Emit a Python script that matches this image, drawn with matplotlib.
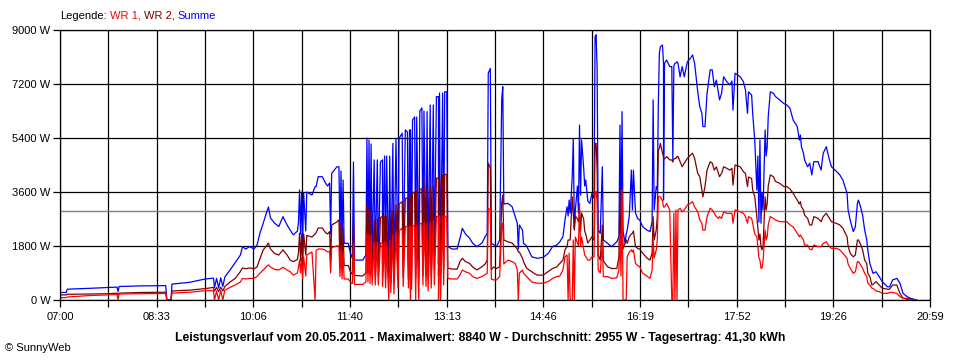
import numpy as np
import matplotlib
matplotlib.use("Agg")
import matplotlib.pyplot as plt

# Zeit in Minuten seit 07:00, Leistung in W
minuten = [
    0, 6, 7, 29, 48, 55, 56, 57, 77, 102,
    103, 107, 108, 125, 140, 148, 149, 151, 153, 155,
    157, 159, 164, 169, 174, 176, 179, 183, 187, 190,
    193, 196, 199, 201, 203, 207, 211, 215, 219, 222,
    225, 229, 230, 231, 232, 233, 234, 235, 237, 238,
    243, 246, 247, 249, 253, 256, 258, 260, 261, 262,
    267, 269, 270, 271, 272, 273, 274, 278, 280, 282,
    283, 284, 292, 295, 296, 297, 298, 299, 300, 301,
    303, 304, 306, 307, 309, 311, 311, 313, 314, 315,
    317, 318, 319, 321, 322, 324, 326, 327, 330, 331,
    333, 335, 336, 337, 338, 338, 339, 340, 342, 343,
    344, 346, 347, 349, 350, 351, 353, 354, 355, 357,
    358, 360, 361, 363, 365, 365, 366, 367, 369, 370,
    371, 373, 374, 378, 383, 386, 388, 391, 395, 398,
    402, 407, 410, 412, 413, 415, 416, 418, 421, 424,
    426, 427, 428, 432, 436, 439, 441, 442, 443, 446,
    447, 450, 455, 460, 466, 471, 475, 479, 482, 485,
    487, 489, 490, 491, 492, 494, 495, 496, 497, 499,
    500, 501, 502, 503, 505, 506, 507, 509, 511, 513,
    515, 516, 517, 518, 519, 521, 523, 524, 528, 532,
    537, 539, 540, 541, 542, 543, 545, 546, 547, 549,
    551, 552, 553, 555, 557, 559, 562, 566, 569, 571,
    572, 573, 575, 576, 577, 578, 579, 581, 582, 582,
    583, 585, 588, 590, 591, 592, 593, 594, 595, 596,
    598, 600, 602, 605, 608, 610, 612, 615, 617, 619,
    620, 622, 624, 627, 629, 631, 633, 635, 636, 638,
    640, 643, 646, 648, 649, 651, 656, 659, 661, 663,
    664, 667, 668, 670, 672, 673, 674, 675, 676, 677,
    678, 680, 681, 682, 683, 685, 688, 690, 694, 698,
    701, 704, 707, 709, 711, 713, 714, 715, 717, 718,
    721, 723, 725, 727, 731, 734, 736, 739, 742, 744,
    749, 752, 755, 759, 760, 762, 765, 767, 769, 770,
    772, 774, 776, 778, 779, 781, 783, 784, 787, 790,
    793, 798, 800, 803, 807, 810, 813, 817, 820, 823, 826,
]

summe = [
    250, 250, 360, 390, 420, 430, 280, 450, 470, 480,
    0, 0, 530, 590, 700, 730, 420, 720, 400, 740,
    450, 770, 1000, 1250, 1500, 1780, 1700, 1780, 1700, 1830,
    2250, 2560, 2900, 3100, 2730, 2560, 2450, 2780, 2500, 2330,
    2170, 2300, 2600, 3670, 2200, 3600, 2000, 3570, 2300, 3600,
    3500, 3780, 3780, 4110, 4110, 3900, 3800, 3900, 2200, 4220,
    4440, 4440, 1890, 4300, 1900, 4000, 1890, 1890, 1560, 1390,
    4600, 1330, 1330, 1500, 5400, 1600, 5330, 1500, 5200, 1400,
    4670, 1300, 4670, 1300, 4600, 4670, 1200, 4800, 1100, 4800,
    900, 4800, 800, 5220, 700, 5390, 1100, 5390, 5560, 1200,
    5670, 5600, 1100, 5670, 1000, 5670, 1000, 6000, 6100, 1100,
    6100, 1200, 6300, 6400, 1300, 6300, 1200, 6280, 1000, 6500,
    1100, 6500, 1500, 6780, 6780, 1200, 6900, 1300, 6900, 1500,
    6940, 6940, 1780, 1700, 1700, 2100, 2390, 2200, 2060, 1890,
    1780, 1900, 2110, 2220, 7560, 7720, 1890, 1850, 1780, 2000,
    6700, 7110, 3200, 3220, 3110, 2780, 2560, 1700, 2500, 2330,
    1890, 1800, 1440, 1390, 1420, 1560, 1780, 1830, 1940, 2110,
    2670, 3110, 2800, 3330, 2900, 4110, 5390, 2400, 3000, 3800,
    2900, 5830, 3500, 5330, 4400, 3800, 4000, 3300, 3220, 3560,
    3390, 8780, 8840, 7670, 2330, 2220, 4440, 2000, 1890, 1780,
    1940, 2110, 5830, 2300, 6280, 2300, 1890, 2200, 2330, 2800,
    4330, 3000, 4330, 2900, 2720, 2670, 2440, 2330, 2280, 2610,
    6670, 3000, 3780, 3670, 6500, 8220, 8440, 8500, 7870, 3330,
    7890, 8000, 7780, 7780, 4670, 7800, 7890, 7900, 7940, 7890,
    7440, 7780, 7440, 7940, 8060, 8170, 7890, 6940, 6440, 6220,
    5780, 5780, 6890, 7670, 7670, 7110, 7330, 6890, 6670, 6890,
    7440, 7280, 7170, 7300, 6330, 7560, 7440, 7280, 7000, 6220,
    6940, 6830, 6220, 5330, 3670, 4800, 2600, 5330, 2560, 3560,
    3000, 5670, 4800, 5110, 6110, 6940, 6890, 6780, 6670, 6550,
    6500, 6390, 6000, 5890, 5780, 5330, 5500, 5110, 4890, 4670,
    4440, 4560, 4170, 4610, 4610, 4330, 4890, 5110, 4670, 4440,
    4280, 4170, 4000, 3560, 3000, 2670, 2280, 2440, 3220, 3330,
    3110, 2830, 2330, 2000, 1670, 1220, 1000, 890, 940, 780,
    610, 440, 440, 670, 720, 560, 220, 110, 60, 30, 0,
]

wr2 = [
    170, 170, 190, 200, 210, 230, 180, 230, 250, 260,
    0, 0, 300, 330, 380, 420, 300, 420, 280, 430,
    300, 450, 600, 720, 950, 1070, 1040, 1070, 1040, 1100,
    1400, 1670, 1800, 1900, 1700, 1550, 1500, 1670, 1500, 1330,
    1280, 1350, 1600, 2230, 1300, 2200, 1200, 2200, 1500, 2150,
    2100, 2200, 2250, 2400, 2400, 2250, 2200, 2280, 1300, 2500,
    2600, 2670, 1100, 2550, 1100, 2400, 1150, 1150, 950, 850,
    2600, 820, 800, 900, 3200, 900, 3100, 850, 3000, 800,
    2650, 800, 2700, 780, 2750, 2780, 750, 2800, 700, 2780,
    600, 2800, 560, 3000, 560, 3170, 700, 3200, 3280, 750,
    3390, 3400, 700, 3450, 650, 3450, 650, 3560, 3600, 700,
    3650, 750, 3700, 3700, 800, 4000, 800, 3720, 700, 3800,
    750, 3800, 1000, 4060, 4060, 800, 4100, 1000, 4170, 1000,
    4200, 4170, 1060, 1030, 1030, 1300, 1390, 1280, 1220, 1100,
    1000, 1110, 1200, 1330, 4560, 4400, 1000, 1100, 1050, 1110,
    3220, 3500, 2000, 1940, 1900, 1780, 1700, 1600, 1600, 1390,
    1280, 1060, 940, 830, 830, 950, 1050, 1100, 1220, 1330,
    1670, 1780, 2000, 2000, 2000, 3440, 2900, 2330, 2800, 2700,
    2600, 3000, 2300, 2900, 2700, 2300, 2200, 1900, 2000, 2110,
    2000, 5220, 5220, 4300, 1500, 1330, 2500, 1300, 1110, 1050,
    1050, 1440, 3670, 1500, 2800, 1700, 1900, 2000, 1890, 2110,
    2200, 2220, 2300, 1780, 1720, 1700, 1560, 1400, 1330, 1560,
    2780, 2000, 2330, 2780, 5000, 5060, 5220, 4900, 4780, 4700,
    4700, 4780, 4670, 4670, 4600, 4700, 4720, 4720, 4780, 4780,
    4610, 4440, 4560, 4720, 4830, 4890, 4720, 4220, 4110, 3670,
    3440, 3780, 4330, 4610, 4560, 4330, 4440, 4220, 4110, 4220,
    4440, 4390, 4330, 4390, 3830, 4500, 4440, 4280, 4220, 3780,
    4100, 4050, 3670, 3440, 2780, 2400, 2000, 2200, 1780, 1670,
    1800, 3440, 3000, 3220, 3800, 4170, 4110, 3950, 3890, 3780,
    3780, 3700, 3560, 3440, 3330, 3200, 3280, 3110, 3000, 2830,
    2720, 2500, 2500, 2780, 2720, 2610, 2780, 2890, 2720, 2610,
    2550, 2500, 2390, 2110, 1800, 1560, 1440, 1500, 2000, 2000,
    1860, 1670, 1330, 1220, 890, 780, 500, 520, 610, 500,
    390, 360, 360, 500, 500, 220, 55, 55, 30, 0, 0,
]

wr1 = [
    80, 80, 100, 150, 170, 180, 0, 200, 210, 220,
    0, 0, 230, 260, 310, 310, 0, 300, 0, 320,
    0, 330, 420, 500, 600, 720, 700, 720, 720, 780,
    900, 1000, 1110, 1170, 1100, 1020, 1000, 1090, 1000, 940,
    830, 900, 1100, 1330, 900, 1400, 700, 1440, 800, 1500,
    1600, 0, 1650, 1700, 1700, 1660, 1600, 1620, 900, 1750,
    1800, 1800, 780, 1700, 700, 1600, 700, 700, 600, 550,
    1900, 520, 520, 600, 2200, 600, 2200, 550, 2150, 500,
    1950, 500, 1950, 500, 1900, 1900, 450, 1950, 400, 1900,
    0, 2000, 250, 2170, 200, 2250, 400, 2300, 2400, 450,
    2450, 2450, 400, 2450, 0, 2450, 350, 2450, 2500, 0,
    2500, 0, 2550, 2550, 500, 2550, 450, 2560, 300, 2600,
    400, 2650, 500, 2780, 2780, 0, 2800, 0, 2800, 500,
    2800, 2750, 720, 700, 700, 850, 1000, 940, 890, 780,
    720, 780, 850, 890, 3060, 3000, 700, 670, 670, 780,
    2500, 2560, 1200, 1330, 1280, 1220, 1000, 0, 900, 1000,
    890, 780, 600, 560, 560, 620, 720, 780, 800, 1000,
    1440, 1500, 0, 1560, 0, 0, 2000, 0, 2100, 1900,
    1800, 3220, 1780, 2100, 1700, 1500, 1450, 1330, 1330, 1440,
    1440, 3600, 3620, 3300, 1000, 900, 1900, 780, 780, 720,
    740, 1000, 2200, 800, 3670, 0, 0, 0, 1440, 1600,
    1670, 1600, 1670, 1220, 1150, 1110, 890, 800, 720, 1000,
    2000, 1400, 1670, 2000, 3440, 3440, 3440, 3300, 3110, 3100,
    3100, 3220, 3000, 0, 0, 2900, 0, 3000, 0, 3000,
    3060, 2940, 3000, 3170, 3220, 3280, 3100, 2940, 2670, 2560,
    2330, 2330, 2780, 3060, 3000, 2890, 2780, 2720, 2780, 2720,
    2940, 2890, 2890, 2890, 2560, 3000, 2940, 2890, 2780, 2560,
    2780, 2720, 2560, 2200, 2110, 1780, 1400, 1330, 1060, 1060,
    1300, 2330, 2000, 2110, 2500, 2780, 2720, 2670, 2610, 2610,
    2610, 2500, 2440, 2330, 2220, 2110, 2170, 2110, 2000, 1830,
    1830, 1700, 1670, 1830, 1780, 1780, 1890, 1940, 1780, 1720,
    1720, 1670, 1560, 1390, 1200, 1060, 890, 940, 1280, 1280,
    1170, 1060, 890, 780, 560, 500, 390, 390, 300, 280,
    220, 220, 250, 250, 220, 110, 60, 20, 10, 0, 0,
]

y_werte = [0, 1800, 3600, 5400, 7200, 9000]
x_labels = ["07:00", "08:33", "10:06", "11:40", "13:13",
            "14:46", "16:19", "17:52", "19:26", "20:59"]
durchschnitt = 2955
legende = [("Legende:", "black"), ("WR 1,", "#ff0000"),
           ("WR 2,", "#800000"), ("Summe", "#0000ff")]
titel = ("Leistungsverlauf vom 20.05.2011 - Maximalwert: 8840 W - "
         "Durchschnitt: 2955 W - Tagesertrag: 41,30 kWh")

plt.rcParams["font.family"] = ["Liberation Sans", "DejaVu Sans"]

fig = plt.figure(figsize=(9.6, 3.6), dpi=100)
ax = fig.add_axes([60 / 960, 60 / 360, 870 / 960, 270 / 360])

# Kurven: Summe unten, WR 1 oben
ax.plot(minuten, summe, color="#0000ff", lw=0.9)
ax.plot(minuten, wr2, color="#800000", lw=0.9)
ax.plot(minuten, wr1, color="#ff0000", lw=0.9)
ax.axhline(durchschnitt, color="#808080", lw=1, zorder=1.5)

ax.set_xlim(0, 839)
ax.set_ylim(0, 9000)
ax.set_yticks(y_werte, [f"{v} W" for v in y_werte])

ticks = np.linspace(0, 839, 19)
labels = []
for i in range(19):
    labels.append(x_labels[i // 2] if i % 2 == 0 else "")
ax.set_xticks(ticks, labels)

ax.set_axisbelow(True)
ax.grid(color="black", lw=0.9)
ax.tick_params(length=5, width=0.9, color="black", labelsize=8)
ax.tick_params(axis="x", pad=4)
ax.tick_params(axis="y", pad=2)
for s in ax.spines.values():
    s.set_linewidth(0.9)

# Legende als farbiger Text ueber dem Diagramm
r = fig.canvas.get_renderer()
x = 60
for text, farbe in legende:
    t = fig.text(x / 960, 1 - 16 / 360, text, color=farbe, fontsize=8, va="center")
    x += t.get_window_extent(r).width + 3

fig.text(480 / 960, 1 - 338 / 360, titel, fontsize=8.8, fontweight="bold",
         ha="center", va="center")
fig.text(5 / 960, 1 - 348 / 360, "\u00a9 SunnyWeb", fontsize=8, va="center")

fig.savefig("out.png", dpi=100, facecolor="white")
